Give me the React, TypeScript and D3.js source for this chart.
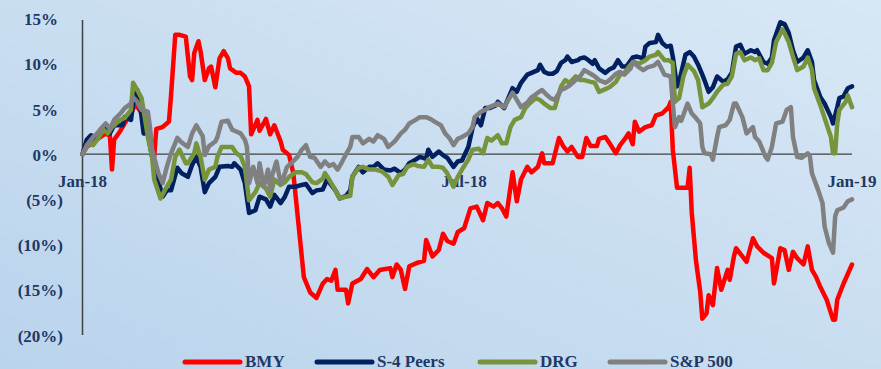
import React from "react";
import * as d3 from "d3";

// [days since 2018-01-01, % return]
const bmy: [number, number][] = [
  [0, 0], [2, 0.8], [6, 1.5], [11, 2.3], [13, 2.0], [14, -1.7], [15, 1.6], [18, 2.6], [21, 3.8], [24, 5.0], [25, 5.6],
  [27, 4.9], [30, 4.0], [32, 2.0], [33, 1.2], [34, -0.3], [35, 2.8], [38, 3.0], [41, 3.6], [42, 6.5], [44, 13.2],
  [46, 13.2], [49, 13.0], [51, 8.6], [52, 8.2], [53, 11.2], [55, 12.5], [56, 11.4], [58, 8.2], [60, 9.5], [61, 9.7],
  [63, 7.4], [65, 10.6], [67, 11.4], [69, 10.6], [70, 9.5], [73, 9.0], [75, 9.0], [77, 8.6], [79, 7.5], [80, 2.2],
  [83, 3.8], [84, 2.6], [87, 3.9], [89, 2.2], [91, 3.2], [94, 1.4], [95, 0.5], [98, -0.1], [100, -2.1], [105, -13.6],
  [108, -15.3], [111, -15.9], [114, -14.3], [116, -13.8], [118, -14.0], [120, -12.8], [121, -15.0], [125, -15.0],
  [126, -16.5], [128, -14.3], [132, -13.8], [135, -12.7], [138, -13.6], [141, -12.8], [146, -12.6], [147, -13.6],
  [149, -12.2], [151, -12.8], [153, -14.9], [155, -12.4], [159, -12.0], [162, -11.8], [163, -9.5], [166, -11.3],
  [169, -10.6], [171, -8.8], [173, -9.6], [176, -9.9], [178, -8.6], [181, -8.2], [184, -6.0], [187, -5.8], [190, -7.3],
  [192, -5.4], [195, -5.8], [197, -5.4], [199, -6.0], [201, -6.9], [204, -2.0], [206, -5.2], [208, -2.8], [211, -1.4],
  [213, -2.0], [216, -1.4], [218, 0.1], [219, -1.0], [223, -1.0], [226, 1.8], [228, 0.9], [230, 0.3], [232, 0.8],
  [235, -0.3], [237, -0.3], [239, 1.8], [241, 0.9], [244, 0.9], [245, 1.7], [248, 1.9], [250, 1.2], [253, 0.1],
  [255, 1.0], [257, 1.6], [259, 2.3], [261, 1.1], [262, 3.6], [264, 2.5], [267, 3.0], [270, 3.2], [272, 4.3],
  [275, 4.5], [278, 5.2], [279, 5.8], [280, 0.5], [282, -3.7], [287, -3.7], [288, -1.5], [289, -6.5], [291, -11.8],
  [293, -15.2], [294, -18.2], [296, -17.6], [297, -15.6], [299, -16.7], [301, -12.6], [303, -15.0], [306, -12.8],
  [307, -13.9], [309, -11.3], [310, -10.4], [313, -11.3], [315, -11.9], [318, -9.3], [320, -10.2], [323, -10.9],
  [327, -11.5], [328, -14.3], [331, -10.4], [333, -10.6], [335, -12.8], [337, -10.8], [339, -11.5], [342, -12.2],
  [344, -10.2], [346, -12.8], [348, -13.6], [350, -14.7], [353, -16.1], [356, -18.3], [357, -18.3], [358, -16.1],
  [361, -14.3], [365, -12.2],
];

const s4Peers: [number, number][] = [
  [0, 0], [2, 1.6], [4, 2.1], [6, 1.8], [8, 2.5], [11, 3.0], [13, 2.3], [15, 3.2], [19, 3.2], [20, 4.1], [23, 3.8],
  [24, 5.6], [26, 7.1], [27, 6.0], [29, 2.3], [31, 2.3], [33, -0.3], [35, -2.1], [38, -4.7], [40, -4.0], [42, -4.0],
  [45, -1.5], [47, -2.1], [50, -2.5], [52, -1.2], [54, -0.3], [56, -1.4], [58, -4.2], [60, -3.2], [63, -2.5],
  [65, -1.4], [69, -1.3], [71, -1.4], [72, -1.0], [75, -1.7], [77, -3.2], [79, -6.5], [82, -6.2], [84, -4.7],
  [87, -5.0], [89, -5.8], [91, -4.5], [94, -5.4], [96, -4.7], [98, -3.6], [101, -3.6], [104, -3.4], [106, -3.3],
  [109, -4.3], [111, -4.0], [114, -3.9], [116, -2.8], [120, -4.0], [122, -4.9], [125, -4.6], [127, -4.0], [128, -2.5],
  [131, -1.4], [133, -2.0], [136, -1.4], [138, -1.4], [140, -1.0], [143, -1.7], [146, -1.8], [148, -1.6], [151, -2.1],
  [153, -1.7], [155, -1.0], [158, -0.6], [160, -0.3], [163, -0.5], [164, 0.5], [166, -0.3], [169, 0.3], [171, -0.1],
  [173, -0.4], [176, -1.4], [178, -0.8], [180, -0.7], [183, 0.8], [185, 2.9], [187, 4.0], [189, 3.2], [191, 5.1],
  [193, 5.1], [196, 5.4], [197, 5.8], [200, 5.1], [202, 6.2], [204, 7.3], [206, 6.9], [208, 7.9], [211, 8.8],
  [213, 9.0], [216, 9.3], [217, 9.9], [219, 9.1], [221, 8.9], [223, 8.9], [225, 9.2], [227, 10.1], [229, 10.4],
  [230, 10.8], [232, 10.2], [235, 10.4], [236, 10.6], [238, 10.7], [240, 10.4], [242, 10.0], [243, 10.4], [245, 9.5],
  [248, 9.0], [250, 9.4], [252, 9.6], [254, 10.4], [256, 9.7], [258, 9.7], [261, 10.7], [263, 10.8], [266, 10.6],
  [267, 11.9], [269, 12.3], [272, 12.4], [273, 13.2], [275, 12.3], [277, 11.9], [279, 12.0], [280, 10.8], [282, 7.5],
  [283, 8.0], [286, 11.0], [288, 11.3], [290, 10.8], [292, 9.9], [294, 8.8], [295, 8.2], [297, 6.9], [299, 7.4],
  [301, 8.6], [304, 8.0], [306, 8.3], [308, 9.0], [310, 11.9], [312, 12.1], [314, 11.1], [317, 11.5], [319, 11.3],
  [320, 11.5], [323, 10.2], [325, 10.0], [327, 10.7], [328, 12.6], [331, 14.6], [333, 14.4], [335, 13.4], [337, 11.5],
  [339, 10.2], [342, 10.7], [344, 11.5], [346, 10.2], [347, 8.2], [350, 6.3], [352, 5.6], [355, 4.1], [356, 3.4],
  [358, 5.2], [359, 6.2], [361, 6.4], [363, 7.3], [365, 7.5],
];

const drg: [number, number][] = [
  [0, 0], [3, 1.2], [5, 1.0], [7, 1.6], [10, 2.7], [12, 2.3], [14, 3.0], [18, 3.8], [20, 4.0], [23, 4.9], [24, 7.9],
  [26, 7.1], [28, 6.2], [30, 3.4], [31, 1.9], [33, -0.3], [34, -2.8], [37, -4.9], [39, -4.0], [42, -2.8], [44, -0.3],
  [46, 0.5], [49, -1.0], [50, -1.0], [53, 0.1], [54, 1.2], [56, -0.3], [58, -2.8], [60, -1.7], [63, -1.4], [64, -0.3],
  [66, 0.8], [69, 0.8], [71, 0.8], [73, 0.1], [75, -0.2], [77, -1.4], [79, -5.1], [82, -4.2], [84, -3.2], [87, -3.8],
  [89, -4.7], [91, -2.8], [94, -3.4], [96, -3.1], [98, -2.5], [101, -2.0], [104, -2.0], [106, -2.2], [109, -3.1],
  [111, -3.2], [114, -2.7], [115, -2.1], [117, -2.8], [120, -4.0], [122, -4.9], [125, -4.7], [127, -4.6], [128, -2.5],
  [131, -1.5], [133, -1.4], [136, -1.7], [139, -1.7], [142, -1.9], [145, -2.5], [147, -3.4], [150, -2.3], [152, -2.2],
  [154, -1.4], [157, -1.1], [159, -1.3], [162, -1.4], [164, -0.6], [166, -1.4], [169, -1.4], [171, -1.5], [173, -2.1],
  [176, -3.6], [178, -2.5], [180, -1.7], [183, -0.6], [185, 0.5], [188, 0.6], [190, 0.1], [192, 1.8], [194, 1.5],
  [197, 2.1], [199, 1.2], [201, 1.2], [203, 3.0], [205, 3.8], [208, 4.1], [210, 5.1], [212, 5.6], [215, 6.2],
  [217, 6.0], [219, 5.6], [222, 5.1], [224, 5.1], [227, 7.5], [229, 8.2], [231, 7.9], [234, 8.6], [236, 8.2],
  [238, 8.2], [241, 8.0], [243, 7.9], [245, 6.9], [248, 7.2], [250, 7.4], [253, 8.0], [255, 8.8], [257, 9.0],
  [260, 9.9], [262, 10.2], [264, 10.0], [267, 10.4], [269, 10.8], [272, 11.0], [273, 11.3], [276, 10.4], [278, 10.4],
  [280, 10.1], [281, 5.8], [283, 6.2], [285, 8.6], [287, 9.9], [290, 9.2], [292, 8.2], [294, 5.2], [297, 5.6],
  [299, 6.2], [301, 6.9], [304, 7.7], [306, 7.8], [308, 8.6], [310, 11.1], [312, 11.3], [314, 10.4], [317, 10.7],
  [319, 10.4], [321, 10.6], [323, 9.3], [325, 9.3], [327, 10.1], [329, 12.4], [332, 13.8], [333, 13.4], [335, 12.4],
  [337, 10.8], [339, 9.3], [342, 9.7], [344, 10.7], [346, 9.3], [347, 7.3], [350, 5.4], [352, 4.0], [355, 1.9],
  [356, 0.1], [357, 0.1], [358, 3.4], [359, 4.9], [362, 5.8], [363, 6.5], [365, 5.2],
];

const sp500: [number, number][] = [
  [0, 0], [2, 1.0], [5, 1.9], [7, 2.3], [9, 2.9], [11, 3.4], [13, 2.8], [15, 3.8], [18, 4.5], [20, 5.1], [23, 5.6],
  [24, 6.3], [26, 5.8], [28, 4.9], [31, 4.7], [32, 3.0], [33, 0.5], [36, -2.1], [38, -3.2], [40, -1.4], [42, 0.1],
  [45, 1.8], [47, 1.3], [50, 0.8], [52, 2.3], [54, 3.2], [57, 2.0], [58, -0.1], [60, 0.9], [63, 1.4], [64, 1.9],
  [66, 3.6], [69, 3.7], [71, 2.7], [75, 2.3], [77, 1.6], [78, 0.8], [79, -3.2], [81, -1.4], [83, -3.2], [84, -1.0],
  [86, -3.6], [88, -1.7], [89, -4.0], [90, -2.3], [92, -0.8], [94, -3.2], [95, -2.8], [97, -1.4], [99, -1.0],
  [102, -0.3], [104, 0.5], [106, 1.0], [108, -0.3], [110, -0.4], [113, -1.4], [115, -0.8], [117, -1.3], [119, -1.1],
  [121, -1.7], [123, -0.9], [125, 0], [127, 0.8], [128, 1.9], [131, 1.9], [133, 1.2], [136, 1.7], [138, 1.4],
  [140, 2.1], [143, 1.7], [145, 0.8], [147, 1.2], [148, 1.4], [151, 2.3], [153, 2.7], [155, 3.4], [158, 3.8],
  [160, 4.1], [163, 4.1], [165, 3.9], [167, 3.6], [170, 3.2], [172, 2.3], [174, 1.8], [176, 1.0], [178, 1.7],
  [180, 1.9], [183, 2.3], [185, 3.0], [186, 4.1], [189, 4.7], [191, 4.9], [193, 5.2], [197, 5.6], [200, 5.2],
  [202, 6.0], [204, 6.8], [206, 6.0], [208, 5.2], [211, 5.7], [213, 6.3], [216, 6.8], [218, 7.1], [220, 6.6],
  [222, 6.2], [224, 6.0], [227, 7.1], [229, 7.3], [231, 7.6], [234, 8.2], [236, 8.6], [238, 9.3], [241, 8.9],
  [243, 8.6], [245, 8.2], [248, 7.9], [250, 8.2], [253, 8.9], [255, 9.1], [257, 8.8], [260, 9.5], [261, 10.2],
  [264, 9.6], [266, 9.3], [268, 9.6], [271, 9.8], [273, 10.2], [275, 9.3], [276, 8.8], [279, 8.6], [280, 5.6],
  [281, 3.0], [283, 4.1], [284, 3.7], [287, 5.6], [289, 4.5], [291, 4.0], [293, 3.4], [294, 0.8], [295, 0.1],
  [298, 0.0], [299, -0.6], [301, 1.9], [302, 3.0], [305, 3.2], [307, 3.8], [309, 5.6], [310, 5.6], [313, 4.1],
  [315, 2.3], [318, 3.0], [319, 1.9], [321, 1.4], [324, -0.3], [325, -0.6], [327, 0.8], [329, 3.4], [332, 3.6],
  [334, 4.9], [336, 5.2], [337, 1.9], [339, -0.3], [341, -0.4], [344, 0.1], [345, -0.2], [346, -2.1], [349, -4.0],
  [351, -5.4], [352, -8.0], [354, -9.8], [356, -10.9], [357, -6.9], [358, -6.2], [361, -5.9], [363, -5.2], [365, -5.0],
];

const seriesNames = ["BMY", "S-4 Peers", "DRG", "S&P 500"];
const seriesColors = ["#ff0000", "#002060", "#77933c", "#808080"];
const seriesData = [bmy, s4Peers, drg, sp500];

const yTicks = [15, 10, 5, 0, -5, -10, -15, -20];
const xTickDates = ["2018-01-01", "2018-07-01", "2019-01-01"];
const xTickLabels = ["Jan-18", "Jul-18", "Jan-19"];

const W = 881;
const H = 369;
const start = new Date(2018, 0, 1);

export default function App() {
  const x = d3.scaleTime().domain([start, new Date(2019, 0, 1)]).range([82.5, 852]);
  const y = d3.scaleLinear().domain([-20, 15]).range([335, 18.6]);
  const line = d3
    .line<[number, number]>()
    .x((d) => x(d3.timeDay.offset(start, d[0])))
    .y((d) => y(d[1]));

  const textColor = "#1f3864";
  const font = "'Liberation Serif', 'Times New Roman', serif";
  const fmt = (v: number) => (v < 0 ? `(${Math.abs(v)}%)` : `${v}%`);
  const legendX = [185, 317, 480, 610];

  return (
    <svg width={W} height={H} style={{ position: "absolute", left: 0, top: 0 }} fontFamily={font}>
      <defs>
        <linearGradient id="bg" x1="0" y1="1" x2="1" y2="0">
          <stop offset="0" stopColor="#bad4ec" />
          <stop offset="1" stopColor="#d8e7f5" />
        </linearGradient>
      </defs>
      <rect x={0} y={0} width={W} height={H} fill="url(#bg)" />

      <line x1={82.5} x2={82.5} y1={20} y2={y(-20)} stroke="#404040" strokeWidth={1.5} />
      <line x1={82.5} x2={852} y1={y(0)} y2={y(0)} stroke="#404040" strokeWidth={1.2} />

      {yTicks.map((t) => (
        <text
          key={t}
          x={t < 0 ? 63 : 58}
          y={y(t) + 1}
          textAnchor="end"
          dominantBaseline="central"
          fontSize={17}
          fontWeight="bold"
          fill={textColor}
        >
          {fmt(t)}
        </text>
      ))}

      {xTickDates.map((d, i) => (
        <text
          key={d}
          x={x(new Date(d + "T00:00:00"))}
          y={181}
          textAnchor="middle"
          dominantBaseline="central"
          fontSize={17}
          fontWeight="bold"
          fill={textColor}
        >
          {xTickLabels[i]}
        </text>
      ))}

      {seriesData.map((s, i) => (
        <path
          key={seriesNames[i]}
          d={line(s) || ""}
          fill="none"
          stroke={seriesColors[i]}
          strokeWidth={4.5}
          strokeLinejoin="round"
          strokeLinecap="round"
        />
      ))}

      {seriesNames.map((n, i) => (
        <g key={n}>
          <line
            x1={legendX[i]}
            x2={legendX[i] + 55}
            y1={362}
            y2={362}
            stroke={seriesColors[i]}
            strokeWidth={5}
            strokeLinecap="round"
          />
          <text
            x={legendX[i] + 60}
            y={361}
            dominantBaseline="central"
            fontSize={17}
            fontWeight="bold"
            fill={textColor}
          >
            {n}
          </text>
        </g>
      ))}
    </svg>
  );
}
